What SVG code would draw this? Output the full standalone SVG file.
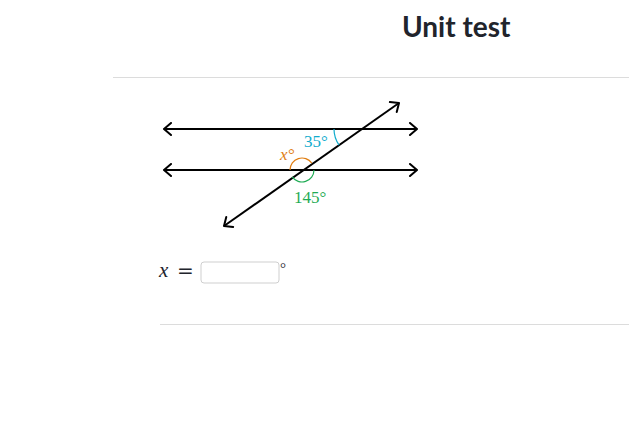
<svg xmlns="http://www.w3.org/2000/svg" width="629" height="423" viewBox="0 0 629 423">
<style>
.ln{stroke:#000;stroke-width:2;fill:none}
.sep{stroke:#dcdcdc;stroke-width:1}
.m{font-family:"Liberation Serif","DejaVu Serif",serif;font-size:17px}
.arc{fill:none;stroke-width:1.2}
</style>
<defs>
<marker id="ah" markerWidth="12" markerHeight="14" refX="10" refY="7" orient="auto-start-reverse" markerUnits="userSpaceOnUse">
<path d="M3,1 L10,7 L3,13" fill="none" stroke="#000" stroke-width="2" stroke-linecap="round" stroke-linejoin="round"/>
</marker>
</defs>
<rect width="629" height="423" fill="#fff"/>
<g id="title"><text x="402" y="37" font-family="Lato,'Liberation Sans',sans-serif" font-weight="bold" font-size="28" fill="#21242c">Unit test</text></g>
<line class="sep" x1="113" y1="77.5" x2="629" y2="77.5"/>
<line class="sep" x1="160" y1="324.5" x2="629" y2="324.5"/>
<g id="connectors">
<line class="ln" x1="164" y1="129" x2="417" y2="129" marker-start="url(#ah)" marker-end="url(#ah)"/>
<line class="ln" x1="164" y1="170" x2="417" y2="170" marker-start="url(#ah)" marker-end="url(#ah)"/>
<line class="ln" x1="224" y1="226" x2="399" y2="103" marker-start="url(#ah)" marker-end="url(#ah)"/>
</g>
<g id="angle35">
<path class="arc" stroke="#11accd" d="M334,129 A28,28 0 0 0 339.1,145.1"/>
<text class="m" x="304" y="147" fill="#11accd">35°</text>
</g>
<g id="anglex">
<path class="arc" stroke="#e07d10" d="M290,170 A12,12 0 0 1 311.8,163.1"/>
<text class="m" x="280" y="160" fill="#e07d10" font-style="italic">x°</text>
</g>
<g id="angle145">
<path class="arc" stroke="#1fab54" d="M314,170 A12,12 0 0 1 292.2,176.9"/>
<text class="m" x="294" y="203" fill="#1fab54">145°</text>
</g>
<g id="answer">
<text x="159" y="277" font-family="'Liberation Serif','DejaVu Serif',serif" font-size="21" font-style="italic" fill="#21242c">x</text>
<text x="177" y="278" font-family="'DejaVu Serif',serif" font-size="20" fill="#21242c">=</text>
<rect x="201" y="262" width="78" height="21" rx="3" fill="#fff" stroke="#cfcfcf"/>
<text x="280" y="273" font-family="'Liberation Serif',serif" font-size="15" fill="#21242c">°</text>
</g>
</svg>
